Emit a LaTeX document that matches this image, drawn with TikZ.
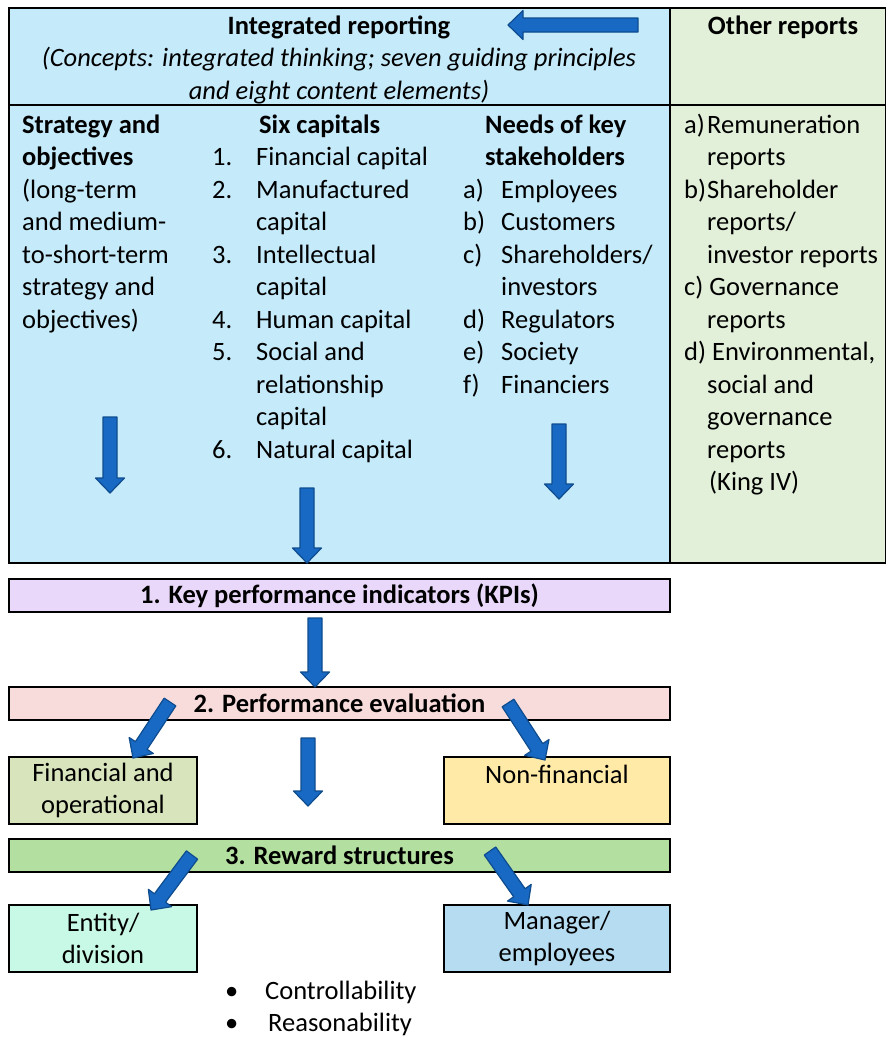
\documentclass[tikz,border=0pt]{standalone}
\usepackage{fontspec}
\setmainfont{Carlito}
\usetikzlibrary{calc,positioning}

\definecolor{irblue}{HTML}{C5EAFA}
\definecolor{othergreen}{HTML}{E2F0D9}
\definecolor{kpiviolet}{HTML}{EAD8FA}
\definecolor{evalpink}{HTML}{F8DCDC}
\definecolor{finolive}{HTML}{D8E4BC}
\definecolor{nonfinyellow}{HTML}{FFEAA8}
\definecolor{rewardgreen}{HTML}{B3DFA0}
\definecolor{entitymint}{HTML}{C8F8E6}
\definecolor{managerblue}{HTML}{B6DCF2}
\definecolor{arrowblue}{HTML}{1769C4}
\definecolor{arrowedge}{HTML}{0F4C8E}

\begin{document}
\begin{tikzpicture}[
    x=1pt, y=-1pt,
    every node/.style={font=\fontsize{26.5}{32.5}\selectfont},
    tablecell/.style={draw, line width=2.5pt},
    widebox/.style={draw, line width=2pt, minimum width=661pt, minimum height=33pt, inner sep=0pt, font=\fontsize{26.5}{32.5}\selectfont\bfseries},
    smallbox/.style={draw, line width=2pt, minimum width=188pt, minimum height=67pt, inner sep=0pt, align=center},
    midbox/.style={smallbox, minimum width=226pt},
    coltext/.style={anchor=base west, inner sep=0pt},
    blockarrow/.style={fill=arrowblue, draw=arrowedge, line width=1.2pt, line join=round,
        to path={-- ($(\tikztostart)!7pt!-90:(\tikztotarget)$)
            -- ($(\tikztotarget)!15pt!(\tikztostart)!7pt!-90:(\tikztotarget)$)
            -- ($(\tikztotarget)!15pt!(\tikztostart)!14.5pt!-90:(\tikztotarget)$)
            -- (\tikztotarget)
            -- ($(\tikztotarget)!15pt!(\tikztostart)!14.5pt!90:(\tikztotarget)$)
            -- ($(\tikztotarget)!15pt!(\tikztostart)!7pt!90:(\tikztotarget)$)
            -- ($(\tikztostart)!7pt!90:(\tikztotarget)$)
            -- cycle}}
]

\path[use as bounding box, fill=white] (0,0) rectangle (886,1037);

% Reporting table
\fill[irblue] (9,8) rectangle (670,563);
\fill[othergreen] (670,8) rectangle (886,563);
\draw[tablecell] (9,8) rectangle (886,563);
\draw[tablecell] (9,105) -- (886,105);
\draw[tablecell] (670,8) -- (670,563);

% Header row
\node[anchor=base] (irtitle) at (339,34) {\bfseries Integrated reporting};
\node[anchor=base, inner sep=0pt] (irconcepts) at (339,66.5) {\itshape\begin{tabular}[t]{@{}c@{}}(Concepts: integrated thinking; seven guiding principles\\and eight content elements)\end{tabular}};
\node[anchor=base] (othertitle) at (783,34) {\bfseries Other reports};

% Columns of the table
\node[coltext] (strategy) at (22,133) {\begin{tabular}[t]{@{}l@{}}\textbf{Strategy and}\\\textbf{objectives}\\(long-term\\and medium-\\to-short-term\\strategy and\\objectives)\end{tabular}};
\node[coltext] (capitals) at (212,133) {\begin{tabular}[t]{@{}p{44pt}@{}l@{}}\multicolumn{2}{@{}l@{}}{\hspace{47pt}\textbf{Six capitals}}\\
    1. & Financial capital\\ 2. & Manufactured\\ & capital\\ 3. & Intellectual\\ & capital\\
    4. & Human capital\\ 5. & Social and\\ & relationship\\ & capital\\ 6. & Natural capital\end{tabular}};
\node[coltext] (stakeholders) at (463,133) {\begin{tabular}[t]{@{}p{38pt}@{}l@{}}\multicolumn{2}{@{}l@{}}{\hspace{22pt}\textbf{Needs of key}}\\
    \multicolumn{2}{@{}l@{}}{\hspace{22pt}\textbf{stakeholders}}\\
    a) & Employees\\ b) & Customers\\ c) & Shareholders/\\ & investors\\ d) & Regulators\\ e) & Society\\ f) & Financiers\end{tabular}};
\node[coltext] (otherlist) at (684,133) {\begin{tabular}[t]{@{}p{23pt}@{}l@{}}a) & Remuneration\\ & reports\\ b) & Shareholder\\ & reports/\\ & investor reports\\
    \multicolumn{2}{@{}l@{}}{c) Governance}\\ & reports\\ \multicolumn{2}{@{}l@{}}{d) Environmental,}\\ & social and\\ & governance\\ & reports\\ & \hspace{2pt}(King IV)\end{tabular}};

% Performance boxes
\node[widebox, fill=kpiviolet] (kpi) at (339.5,595.5) {1. Key performance indicators (KPIs)};
\node[widebox, fill=evalpink] (evaluation) at (339.5,703) {2. Performance evaluation};
\node[smallbox, fill=finolive] (financial) at (103,790.5) {Financial and\\operational};
\node[midbox, fill=nonfinyellow, text height=25pt, text depth=40pt] (nonfinancial) at (557,790.5) {Non-financial};
\node[widebox, fill=rewardgreen] (reward) at (339.5,855.5) {3. Reward structures};
\node[smallbox, fill=entitymint] (entity) at (103,938.5) {Entity/\\division};
\node[midbox, fill=managerblue] (manager) at (557,938.5) {Manager/\\employees};

% Criteria
\node[coltext] (criteria) at (225,999) {\begin{tabular}[t]{@{}p{40pt}@{}l@{}}\textbullet & Controllability\\ \textbullet & \hspace{3pt}Reasonability\end{tabular}};

% Arrow end points
\coordinate (irtail) at (638,25);
\coordinate (irtip) at (508,25);
\coordinate (strategytail) at (110,417);
\coordinate (strategytip) at (110,493);
\coordinate (capitalstail) at (307,488);
\coordinate (capitalstip) at (307,563);
\coordinate (stakeholderstail) at (559,424);
\coordinate (stakeholderstip) at (559,499);
\coordinate (kpitail) at (315,618);
\coordinate (kpitip) at (315,687);
\coordinate (evalleft) at (170,702);
\coordinate (evalright) at (508,703);
\coordinate (evaldown) at (308,738);
\coordinate (financialtip) at (133,758);
\coordinate (nonfinancialtip) at (545,760);
\coordinate (rewardtip) at (308,806);
\coordinate (rewardleft) at (192,855);
\coordinate (rewardright) at (490,851);
\coordinate (entitytip) at (151,910);
\coordinate (managertip) at (528,905);

% Block arrows
\draw[blockarrow] (irtail) to (irtip);
\draw[blockarrow] (strategytail) to (strategytip);
\draw[blockarrow] (capitalstail) to (capitalstip);
\draw[blockarrow] (stakeholderstail) to (stakeholderstip);
\draw[blockarrow] (kpitail) to (kpitip);
\draw[blockarrow] (evalleft) to (financialtip);
\draw[blockarrow] (evalright) to (nonfinancialtip);
\draw[blockarrow] (evaldown) to (rewardtip);
\draw[blockarrow] (rewardleft) to (entitytip);
\draw[blockarrow] (rewardright) to (managertip);

\end{tikzpicture}
\end{document}
